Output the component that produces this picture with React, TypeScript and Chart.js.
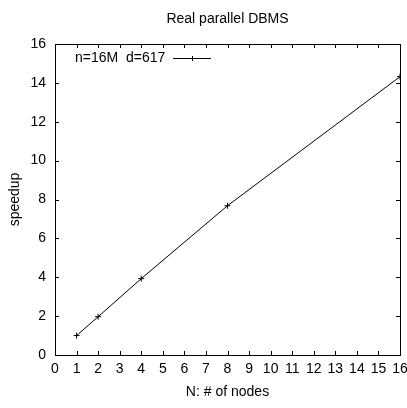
import React, { useEffect, useRef } from "react";
import { Chart, registerables } from "chart.js";

Chart.register(...registerables);

const nodes = [1, 2, 4, 8, 16];
const speedup = [1.0, 1.97, 3.93, 7.68, 14.32];
const seriesLabel = "n=16M  d=617";
const chartTitle = "Real parallel DBMS";
const xTitle = "N: # of nodes";
const yTitle = "speedup";

const FONT = "'Liberation Sans', Arial, sans-serif";

const innerTicks = {
  id: "innerTicks",
  afterDatasetsDraw(chart: any) {
    const { ctx, chartArea: a, scales } = chart;
    const x = scales.x;
    const y = scales.y;
    const L = 4;
    ctx.save();
    ctx.strokeStyle = "#000";
    ctx.lineWidth = 1;
    ctx.beginPath();
    x.ticks.forEach((t: any) => {
      const px = Math.round(x.getPixelForValue(t.value)) + 0.5;
      ctx.moveTo(px, a.bottom);
      ctx.lineTo(px, a.bottom - L);
      ctx.moveTo(px, a.top);
      ctx.lineTo(px, a.top + L);
    });
    y.ticks.forEach((t: any) => {
      const py = Math.round(y.getPixelForValue(t.value)) + 0.5;
      ctx.moveTo(a.left, py);
      ctx.lineTo(a.left + L, py);
      ctx.moveTo(a.right, py);
      ctx.lineTo(a.right - L, py);
    });
    ctx.stroke();
    ctx.strokeRect(Math.round(a.left) + 0.5, Math.round(a.top) + 0.5, Math.round(a.right - a.left), Math.round(a.bottom - a.top));
    // legend inside plot, gnuplot style
    ctx.font = `14px ${FONT}`;
    ctx.fillStyle = "#000";
    ctx.textBaseline = "middle";
    ctx.textAlign = "left";
    const ly = a.top + 14;
    ctx.fillText(chart.data.datasets[0].label, a.left + 20, ly);
    const x0 = a.left + 118;
    const x1 = a.left + 156;
    ctx.beginPath();
    ctx.moveTo(x0, ly + 0.5);
    ctx.lineTo(x1, ly + 0.5);
    const mx = (x0 + x1) / 2;
    ctx.moveTo(mx - 2.5, ly + 0.5);
    ctx.lineTo(mx + 2.5, ly + 0.5);
    ctx.moveTo(mx + 0.5, ly - 2);
    ctx.lineTo(mx + 0.5, ly + 3);
    ctx.stroke();
    ctx.restore();
  },
};

export default function App() {
  const ref = useRef<HTMLCanvasElement>(null);
  useEffect(() => {
    document.body.style.margin = "0";
    const chart = new Chart(ref.current!, {
      type: "scatter",
      data: {
        datasets: [
          {
            label: seriesLabel,
            data: nodes.map((n, i) => ({ x: n, y: speedup[i] })),
            showLine: true,
            borderColor: "#000",
            backgroundColor: "#000",
            borderWidth: 1,
            pointStyle: "cross",
            pointRadius: 3,
            pointBorderWidth: 1,
          },
        ],
      },
      plugins: [innerTicks],
      options: {
        animation: false,
        responsive: false,
        layout: { padding: { left: 0, right: 7, top: 0, bottom: 0 } },
        plugins: {
          legend: { display: false },
          tooltip: { enabled: false },
          title: {
            display: true,
            fullSize: false,
            text: chartTitle,
            color: "#000",
            font: { family: FONT, size: 14, weight: "normal" },
            padding: { top: 11, bottom: 16.2 },
          },
        },
        scales: {
          x: {
            type: "linear",
            min: 0,
            max: 16,
            border: { display: false },
            grid: { display: false, drawTicks: false },
            ticks: {
              stepSize: 1,
              color: "#000",
              font: { family: FONT, size: 14 },
              padding: 6,
              maxRotation: 0,
              autoSkip: false,
            },
            title: {
              display: true,
              text: xTitle,
              color: "#000",
              font: { family: FONT, size: 14 },
              padding: { top: 4, bottom: 7 },
            },
            afterFit(scale: any) {
              scale.height = 53;
              scale.paddingRight = 0;
              scale.paddingLeft = 0;
            },
          },
          y: {
            type: "linear",
            min: 0,
            max: 16,
            border: { display: false },
            grid: { display: false, drawTicks: false },
            ticks: {
              stepSize: 2,
              color: "#000",
              font: { family: FONT, size: 14 },
              padding: 9,
            },
            title: {
              display: true,
              text: yTitle,
              color: "#000",
              font: { family: FONT, size: 14 },
              padding: { top: 7, bottom: 8 },
            },
            afterFit(scale: any) {
              scale.width = 55;
              scale.paddingTop = 0;
              scale.paddingBottom = 0;
            },
          },
        },
      },
    });
    return () => chart.destroy();
  }, []);
  return (
    <div style={{ width: 407, height: 408, background: "#fff" }}>
      <canvas ref={ref} width={407} height={408} />
    </div>
  );
}
